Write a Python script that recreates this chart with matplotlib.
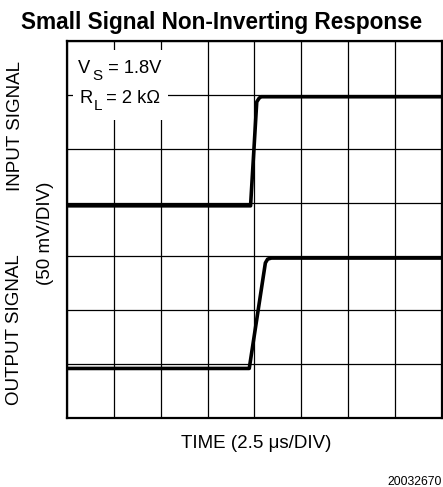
import matplotlib
matplotlib.use("Agg")
import matplotlib.pyplot as plt
from matplotlib.patches import Rectangle

plt.rcParams['font.family'] = ['Liberation Sans', 'DejaVu Sans']

# Time axis in microseconds (2.5 us/div, 8 divisions); vertical in divisions (7)
x_ticks = [0, 2.5, 5, 7.5, 10, 12.5, 15, 17.5, 20]
y_ticks = [0, 1, 2, 3, 4, 5, 6, 7]

input_t = [0, 9.79, 10.12, 10.25, 10.36, 20]
input_v = [3.94, 3.94, 5.87, 5.94, 5.965, 5.965]

output_t = [0, 9.72, 10.58, 10.7, 10.9, 20]
output_v = [0.92, 0.92, 2.88, 2.95, 2.97, 2.97]

W, H = 443, 487
fig = plt.figure(figsize=(W / 100, H / 100), dpi=100)
ax = fig.add_axes([67 / W, (H - 418) / H, 375 / W, 377 / H])

ax.set_xlim(0, 20)
ax.set_ylim(0, 7)
ax.set_xticks(x_ticks)
ax.set_yticks(y_ticks)
ax.tick_params(length=0, labelbottom=False, labelleft=False)
ax.grid(True, color='black', linewidth=0.9, zorder=1)
ax.set_axisbelow(True)
for s in ax.spines.values():
    s.set_linewidth(1.6)
    s.set_color('black')

ax.plot(input_t, input_v, color='black', linewidth=2.6, solid_joinstyle='round', zorder=3)
ax.plot(output_t, output_v, color='black', linewidth=2.6, solid_joinstyle='round', zorder=3)

# white backing behind the condition annotations
ax.add_patch(Rectangle((0.32, 5.53), 5.07, 1.30, facecolor='white', edgecolor='none', zorder=2))


def fx(px):
    return px / W


def fy(py):
    return 1 - py / H


fs_main = 13.2
fs_sub = 11.0
fig.text(fx(78), fy(73), "V", fontsize=fs_main, ha='left', va='baseline')
fig.text(fx(92.5), fy(79.5), "S", fontsize=fs_sub, ha='left', va='baseline')
fig.text(fx(103), fy(73), " = 1.8V", fontsize=fs_main, ha='left', va='baseline')
fig.text(fx(79.5), fy(103), "R", fontsize=fs_main, ha='left', va='baseline')
fig.text(fx(94), fy(110), "L", fontsize=fs_sub, ha='left', va='baseline')
fig.text(fx(101), fy(103), " = 2 k\u03a9", fontsize=fs_main, ha='left', va='baseline')

fig.text(222 / W, 1 - 22 / H, "Small Signal Non-Inverting Response", fontsize=16.3,
         fontweight='bold', ha='center', va='center')
fig.text(15 / W, 1 - 126 / H, "INPUT SIGNAL", fontsize=13.5, rotation=90, ha='center', va='center')
fig.text(45 / W, 1 - 233 / H, "(50 mV/DIV)", fontsize=13.5, rotation=90, ha='center', va='center')
fig.text(15 / W, 1 - 330 / H, "OUTPUT SIGNAL", fontsize=13.5, rotation=90, ha='center', va='center')
fig.text(256 / W, 1 - 443 / H, "TIME (2.5 \u03bcs/DIV)", fontsize=13.5, ha='center', va='center')
fig.text(442 / W, 1 - 482 / H, "20032670", fontsize=8.8, ha='right', va='center')

fig.savefig("out.png", dpi=100)
